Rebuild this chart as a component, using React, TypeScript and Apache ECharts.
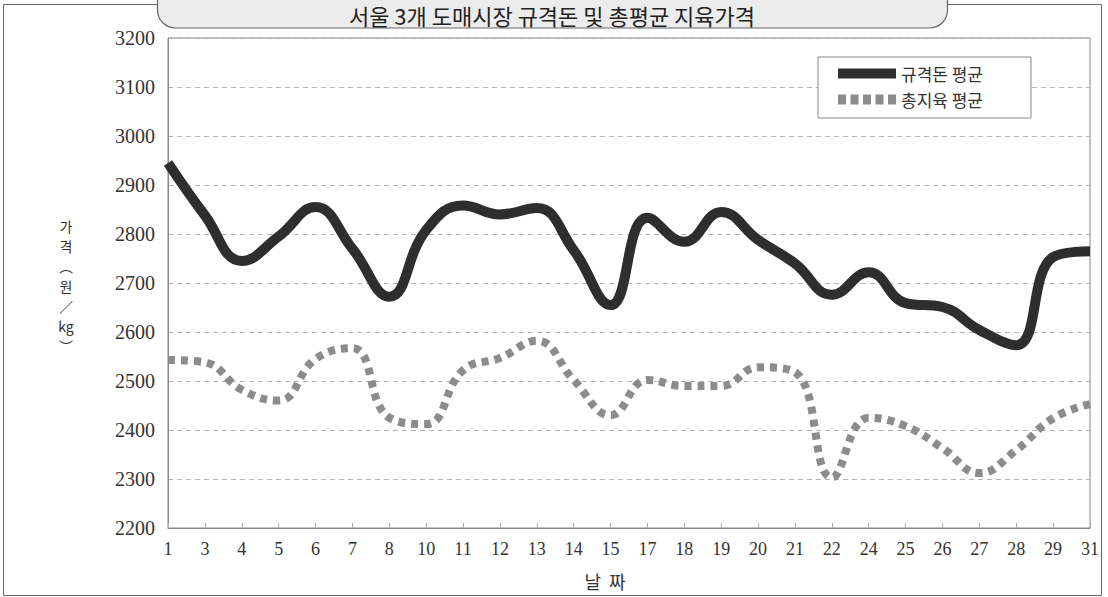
import React, { useEffect, useRef } from "react";
import * as echarts from "echarts";

const days = ["1", "3", "4", "5", "6", "7", "8", "10", "11", "12", "13", "14", "15", "17", "18", "19", "20", "21", "22", "24", "25", "26", "27", "28", "29", "31"];
const porkStandard = [2945, 2838, 2745, 2795, 2855, 2770, 2672, 2808, 2858, 2840, 2853, 2767, 2655, 2833, 2784, 2845, 2788, 2740, 2676, 2722, 2659, 2651, 2604, 2573, 2753, 2765];
const carcassAvg = [2543, 2538, 2482, 2460, 2545, 2567, 2425, 2412, 2522, 2547, 2582, 2502, 2430, 2502, 2490, 2490, 2528, 2518, 2303, 2425, 2408, 2363, 2312, 2359, 2424, 2453];
const seriesNames = ["규격돈 평균", "총지육 평균"];
const titleText = "서울 3개 도매시장 규격돈 및 총평균 지육가격";
const yAxisNameChars = ["가", "격", "︵", "원", "／", "kg", "︶"];
const xAxisName = "날  짜";

const dashIcon = "path://M0,0h8v10h-8z M12.5,0h8v10h-8z M25,0h8v10h-8z M37.5,0h8v10h-8z M50,0h8v10h-8z";

export default function App() {
  const ref = useRef<HTMLDivElement>(null);
  useEffect(() => {
    document.body.style.margin = "0";
    const chart = echarts.init(ref.current!, null, { renderer: "svg" });
    const serif = "'Liberation Serif', 'DejaVu Serif', serif";
    const kr = "'Noto Sans CJK KR', 'Noto Sans', sans-serif";
    const yNameTop = 226;
    const yNameStep = 20;
    chart.setOption({
      animation: false,
      backgroundColor: "#ffffff",
      grid: { left: 168, top: 38, right: 18, bottom: 69, show: true, borderColor: "#888", borderWidth: 1, backgroundColor: "transparent" },
      legend: {
        orient: "vertical",
        left: 818,
        top: 57,
        padding: [8, 48, 10, 20],
        borderColor: "#888",
        borderWidth: 1,
        backgroundColor: "#fff",
        itemWidth: 58,
        itemHeight: 10,
        itemGap: 9,
        itemTextGap: 12,
        textStyle: { fontFamily: kr, fontSize: 17, color: "#333" },
        data: [
          { name: seriesNames[0], icon: "rect" },
          { name: seriesNames[1], icon: dashIcon },
        ],
      },
      xAxis: {
        type: "category",
        data: days,
        boundaryGap: false,
        axisLine: { lineStyle: { color: "#888", width: 1 } },
        axisTick: { inside: true, length: 5, lineStyle: { color: "#aaa" } },
        axisLabel: { fontFamily: serif, fontSize: 18, color: "#333", margin: 12 },
        splitLine: { show: false },
      },
      yAxis: {
        type: "value",
        min: 2200,
        max: 3200,
        interval: 100,
        axisLine: { show: true, lineStyle: { color: "#888", width: 1 } },
        axisTick: { show: false },
        axisLabel: { fontFamily: serif, fontSize: 20, color: "#333", margin: 13, formatter: (v: number) => String(v) },
        splitLine: { show: true, lineStyle: { color: "#b5b5b5", type: [5, 4], width: 1 } },
      },
      series: [
        {
          name: seriesNames[0],
          type: "line",
          data: porkStandard,
          smooth: 0.45,
          symbol: "none",
          color: "#2e2e2e",
          itemStyle: { color: "#2e2e2e" },
          lineStyle: { color: "#2e2e2e", width: 10, cap: "butt", join: "round" },
          z: 3,
        },
        {
          name: seriesNames[1],
          type: "line",
          data: carcassAvg,
          smooth: 0.45,
          symbol: "none",
          color: "#8c8c8c",
          itemStyle: { color: "#8c8c8c" },
          lineStyle: { color: "#8c8c8c", width: 8, type: [7, 6], cap: "butt" },
          z: 2,
        },
      ],
      graphic: [
        {
          type: "rect",
          shape: { x: 3.5, y: 4.5, width: 1098, height: 591 },
          style: { fill: "none", stroke: "#666", lineWidth: 1 },
          z: -1,
          silent: true,
        },
        {
          type: "rect",
          shape: { x: 157.5, y: -30, width: 790, height: 58, r: 18 },
          style: { fill: "#ececec", stroke: "#666", lineWidth: 1.2 },
          z: 10,
          silent: true,
        },
        {
          type: "text",
          x: 552,
          y: 15,
          style: { text: titleText, fontFamily: kr, fontSize: 22, fill: "#222", align: "center", verticalAlign: "middle" },
          z: 11,
          silent: true,
        },
        ...yAxisNameChars.map((ch, i) => ({
          type: "text",
          x: 66,
          y: yNameTop + i * yNameStep,
          style: { text: ch, fontFamily: kr, fontSize: 14, fill: "#333", align: "center", verticalAlign: "middle" },
          silent: true,
        })),
        {
          type: "text",
          x: 605,
          y: 581,
          style: { text: xAxisName, fontFamily: kr, fontSize: 18, fill: "#333", align: "center", verticalAlign: "middle" },
          silent: true,
        },
      ],
    });
    return () => chart.dispose();
  }, []);
  return <div ref={ref} style={{ width: 1108, height: 597 }} />;
}
